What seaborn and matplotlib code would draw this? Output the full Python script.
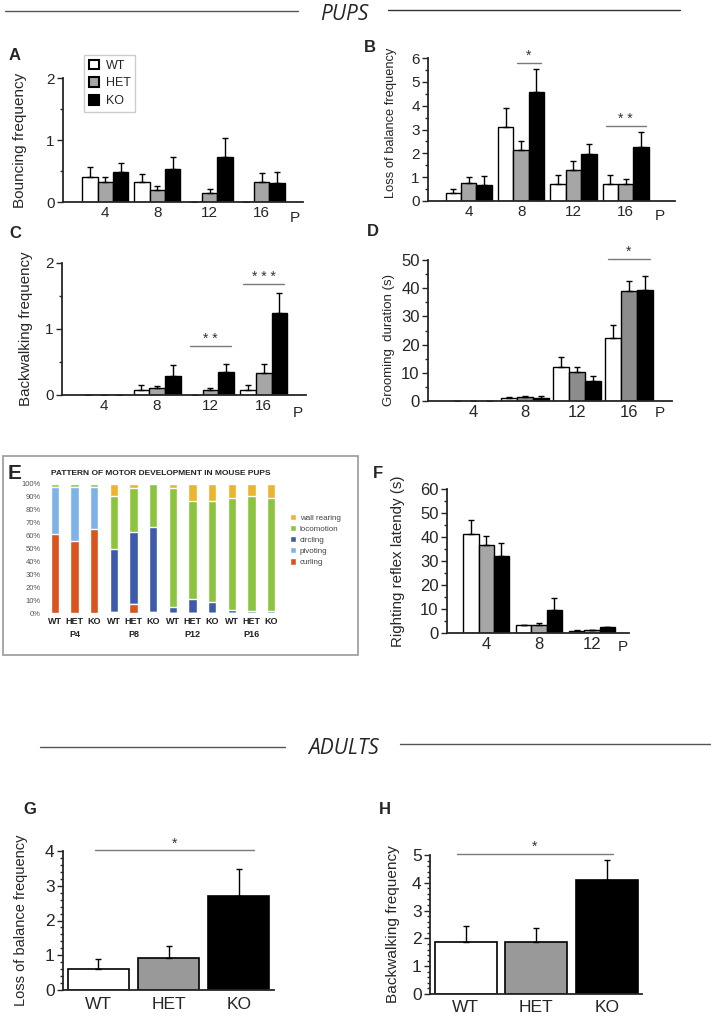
import numpy as np
import pandas as pd
import seaborn as sns
import matplotlib.pyplot as plt
from matplotlib.patches import Patch, Rectangle
from matplotlib.lines import Line2D
from matplotlib.ticker import MultipleLocator, FuncFormatter

W, H = 711, 1016

genotypes = ['WT', 'HET', 'KO']
ages = ['4', '8', '12', '16']
ages_f = ['4', '8', '12']

# A - bouncing frequency
bounce_wt = [0.40, 0.32, 0.0, 0.0]
bounce_het = [0.32, 0.19, 0.14, 0.32]
bounce_ko = [0.48, 0.54, 0.72, 0.30]
bounce_wt_err = [0.17, 0.13, 0.0, 0.0]
bounce_het_err = [0.08, 0.07, 0.07, 0.15]
bounce_ko_err = [0.15, 0.18, 0.31, 0.19]

# B - loss of balance (pups)
lob_wt = [0.34, 3.09, 0.72, 0.72]
lob_het = [0.77, 2.12, 1.28, 0.73]
lob_ko = [0.69, 4.59, 1.97, 2.28]
lob_wt_err = [0.17, 0.81, 0.35, 0.35]
lob_het_err = [0.24, 0.38, 0.38, 0.20]
lob_ko_err = [0.35, 0.94, 0.43, 0.60]

# C - backwalking (pups)
bw_wt = [0.0, 0.08, 0.0, 0.08]
bw_het = [0.0, 0.10, 0.07, 0.34]
bw_ko = [0.0, 0.29, 0.35, 1.25]
bw_wt_err = [0.0, 0.07, 0.0, 0.07]
bw_het_err = [0.0, 0.04, 0.03, 0.13]
bw_ko_err = [0.0, 0.16, 0.12, 0.30]

# D - grooming duration
groom_wt = [0.0, 1.2, 12.1, 22.4]
groom_het = [0.0, 1.3, 10.2, 38.9]
groom_ko = [0.0, 1.2, 7.0, 39.2]
groom_wt_err = [0.0, 0.2, 3.5, 4.6]
groom_het_err = [0.0, 0.4, 1.9, 3.5]
groom_ko_err = [0.0, 0.6, 1.9, 5.0]

# E - pattern of motor development (%)
stage_labels = ['P4', 'P8', 'P12', 'P16']
motor_ids = [f'{s} {g}' for s in stage_labels for g in genotypes]
curling = [61, 55.5, 65, 1, 7, 1, 0, 0, 0, 0, 0, 0]
pivoting = [37, 42, 33, 0, 0, 0, 0, 0, 0, 0, 0, 0]
circling = [0, 0, 0, 48.5, 56, 65.5, 5, 10.5, 8.5, 2, 1.5, 1.5]
locomotion = [2, 2.5, 2, 41.5, 34, 33.5, 92, 76.5, 78, 87, 89, 88]
wall_rearing = [0, 0, 0, 9, 3, 0, 3, 13, 13.5, 11, 9.5, 10.5]

# F - righting reflex latency
rr_wt = [41.4, 3.2, 0.85]
rr_het = [36.8, 3.5, 1.1]
rr_ko = [32.1, 9.6, 2.4]
rr_wt_err = [5.8, 0.3, 0.3]
rr_het_err = [3.5, 0.7, 0.3]
rr_ko_err = [5.4, 4.8, 0.3]

# G, H - adults
adult_lob = [0.60, 0.92, 2.70]
adult_lob_err = [0.30, 0.36, 0.77]
adult_bw = [1.87, 1.87, 4.10]
adult_bw_err = [0.56, 0.52, 0.71]

sns.set_style('ticks')
plt.rcParams['font.family'] = ['Liberation Sans', 'DejaVu Sans']

fig = plt.figure(figsize=(W / 100, H / 100), dpi=100)


def px_rect(l, t, r, b):
    return [l / W, 1 - b / H, (r - l) / W, (b - t) / H]


def fx(x):
    return x / W


def fy(y):
    return 1 - y / H


def grouped(ax, cats, vals, errs, colors, width):
    df = pd.DataFrame({
        'age': cats * 3,
        'geno': [g for g in genotypes for _ in cats],
        'val': sum(vals, []),
    })
    sns.barplot(data=df, x='age', y='val', hue='geno', order=cats,
                hue_order=genotypes, palette=colors, saturation=1,
                width=width, gap=0, errorbar=None, edgecolor='black',
                linewidth=1, legend=False, ax=ax)
    for cont, err in zip(list(ax.containers)[:3], errs):
        xs = [p.get_x() + p.get_width() / 2 for p in cont]
        ys = [p.get_height() for p in cont]
        ax.errorbar(xs, ys, yerr=[np.zeros(len(err)), err], fmt='none',
                    ecolor='black', elinewidth=1, capsize=2, capthick=1)


def style(ax, ylim, major, minor, ylabel, label_xpx, rect, lab_fs=10.5,
          tick_fs=11, label_y=0.5, xpad=3):
    ax.set_ylim(*ylim)
    ax.yaxis.set_major_locator(MultipleLocator(major))
    ax.yaxis.set_minor_locator(MultipleLocator(minor))
    sns.despine(ax=ax)
    for s in ['left', 'bottom']:
        ax.spines[s].set_linewidth(1.3)
    ax.set_xlabel('')
    ax.set_ylabel(ylabel, fontsize=lab_fs)
    l, t, r, b = rect
    ax.yaxis.set_label_coords((label_xpx - l) / (r - l), label_y)
    ax.tick_params(axis='x', length=0, labelsize=tick_fs, pad=xpad)
    ax.tick_params(axis='y', which='major', length=4, width=1, labelsize=tick_fs, pad=2)
    ax.tick_params(axis='y', which='minor', length=2.5, width=1)


def sig(ax, cont_a, cont_b, idx, y, text, fs=10):
    pa = ax.containers[cont_a][idx]
    pb = ax.containers[cont_b][idx]
    x1 = pa.get_x() + pa.get_width() * 0.2
    x2 = pb.get_x() + pb.get_width() * 0.8
    ax.plot([x1, x2], [y, y], color='#7a7a7a', lw=1, clip_on=False)
    ax.text((x1 + x2) / 2, y, text, ha='center', va='bottom', fontsize=fs,
            color='#333333', clip_on=False)


grey = '#a6a6a6'

# ---- A ----
rA = (63, 78, 303, 202)
axA = fig.add_axes(px_rect(*rA))
grouped(axA, ages, [bounce_wt, bounce_het, bounce_ko],
        [bounce_wt_err, bounce_het_err, bounce_ko_err], ['white', grey, 'black'], 0.88)
style(axA, (0, 2), 1, 0.5, 'Bouncing frequency', 27, rA, lab_fs=11)
axA.set_xlim(-0.81, 3.79)
handles = [Patch(facecolor=c, edgecolor='black', lw=1.5) for c in ['white', grey, 'black']]
axA.legend(handles, genotypes, loc='upper left', bbox_to_anchor=(fx(78), fy(49)),
           bbox_transform=fig.transFigure, fontsize=9, handlelength=0.8,
           handleheight=0.8, handletextpad=0.6, labelspacing=0.45, borderpad=0.35,
           fancybox=False, edgecolor='#cccccc', framealpha=1)

# ---- B ----
rB = (428, 58, 675, 201)
axB = fig.add_axes(px_rect(*rB))
grouped(axB, ages, [lob_wt, lob_het, lob_ko],
        [lob_wt_err, lob_het_err, lob_ko_err], ['white', grey, 'black'], 0.88)
style(axB, (0, 6), 1, 0.5, 'Loss of balance frequency', 397, rB, lab_fs=9.3, label_y=0.55)
axB.set_xlim(-0.78, 3.94)
sig(axB, 1, 2, 1, 5.8, '*')
sig(axB, 0, 2, 3, 3.15, '* *')

# ---- C ----
rC = (62, 263, 306, 395)
axC = fig.add_axes(px_rect(*rC))
grouped(axC, ages, [bw_wt, bw_het, bw_ko],
        [bw_wt_err, bw_het_err, bw_ko_err], ['white', grey, 'black'], 0.88)
style(axC, (0, 2), 1, 0.5, 'Backwalking frequency', 33, rC, lab_fs=10.9)
axC.set_xlim(-0.78, 3.79)
sig(axC, 0, 2, 2, 0.74, '* *')
sig(axC, 0, 2, 3, 1.68, '* * *')

# ---- D ----
rD = (428, 260, 672, 401)
axD = fig.add_axes(px_rect(*rD))
grouped(axD, ages, [groom_wt, groom_het, groom_ko],
        [groom_wt_err, groom_het_err, groom_ko_err], ['white', '#8c8c8c', 'black'], 0.92)
style(axD, (0, 50), 10, 5, 'Grooming  duration (s)', 395, rD, lab_fs=9.5, label_y=0.43, tick_fs=12)
axD.set_xlim(-0.87, 3.83)
sig(axD, 0, 2, 3, 50.4, '*')

# ---- F ----
rF = (447, 489, 629, 633)
axF = fig.add_axes(px_rect(*rF))
grouped(axF, ages_f, [rr_wt, rr_het, rr_ko],
        [rr_wt_err, rr_het_err, rr_ko_err], ['white', grey, 'black'], 0.86)
style(axF, (0, 60), 10, 5, 'Righting reflex latendy (s)', 405, rF, lab_fs=10.9, tick_fs=12)
axF.set_xlim(-0.74, 2.7)

# P labels
for x, y in [(295, 218), (660, 216), (298, 413), (660, 413), (623, 647)]:
    fig.text(fx(x), fy(y), 'P', ha='center', va='center', fontsize=11)

# ---- E ----
rE = (45, 484, 281, 613)
axE = fig.add_axes(px_rect(*rE))
layers = [('wall rearing', wall_rearing, '#ebb52e'),
          ('locomotion', locomotion, '#8cc43f'),
          ('circling', circling, '#3d5ba9'),
          ('pivoting', pivoting, '#80b2ea'),
          ('curling', curling, '#d9541e')]
stack_order = [curling, pivoting, circling, locomotion, wall_rearing]
cum = np.cumsum(np.array(stack_order), axis=0)
cum_by_name = dict(zip(['curling', 'pivoting', 'circling', 'locomotion', 'wall rearing'], cum))
for name, _, col in layers:
    sns.barplot(x=motor_ids, y=cum_by_name[name], color=col, saturation=1,
                width=0.42, errorbar=None, order=motor_ids, ax=axE)
axE.set_xlim(-0.5, 11.5)
axE.set_ylim(0, 100)
axE.yaxis.set_major_locator(MultipleLocator(10))
axE.yaxis.set_major_formatter(FuncFormatter(lambda v, p: f'{v:.0f}%'))
axE.set_xticks(range(len(motor_ids)))
axE.set_xticklabels([g for _ in stage_labels for g in genotypes], fontsize=6.5,
                    fontweight='bold', color='#222222')
axE.tick_params(axis='y', length=0, labelsize=5.5, labelcolor='#555555', pad=3)
axE.tick_params(axis='x', length=0, pad=3)
for s in axE.spines.values():
    s.set_visible(False)
axE.set_ylabel('')
axE.set_xlabel('')
for i, st in enumerate(stage_labels):
    axE.text(i * 3 + 1, -0.165, st, transform=axE.get_xaxis_transform(),
             ha='center', va='center', fontsize=6.5, fontweight='bold', color='#222222')
axE.legend([Patch(facecolor=c) for _, _, c in layers], [n for n, _, _ in layers],
           loc='upper left', bbox_to_anchor=(fx(286), fy(510)),
           bbox_transform=fig.transFigure, frameon=False, fontsize=5.8,
           handlelength=0.8, handleheight=0.8, handletextpad=0.4,
           labelspacing=0.4, borderpad=0, labelcolor='#444444')
fig.text(fx(161), fy(473), 'PATTERN OF MOTOR DEVELOPMENT IN MOUSE PUPS',
         ha='center', va='center', fontsize=6.0, fontweight='bold', color='#222222')
fig.add_artist(Rectangle((fx(3), fy(655)), (358 - 3) / W, (655 - 456) / H,
                         transform=fig.transFigure, fill=False,
                         edgecolor='#9a9a9a', lw=1.2))

# ---- G ----
rG = (63, 851, 274, 990)
axG = fig.add_axes(px_rect(*rG))
sns.barplot(x=genotypes, y=adult_lob, hue=genotypes, palette=['white', '#999999', 'black'],
            saturation=1, width=0.87, errorbar=None, edgecolor='black', linewidth=1.2,
            legend=False, ax=axG)
for p, e in zip(list(axG.patches), adult_lob_err):
    axG.errorbar(p.get_x() + p.get_width() / 2, p.get_height(), yerr=[[0], [e]],
                 fmt='none', ecolor='black', elinewidth=1, capsize=2)
style(axG, (0, 4), 1, 0.2, 'Loss of balance frequency', 28, rG, lab_fs=10.5,
      tick_fs=12.5, xpad=5)
axG.set_xlim(-0.5, 2.5)
pa, pb = axG.patches[0], axG.patches[2]
gx1, gx2 = pa.get_x() + pa.get_width() * 0.45, pb.get_x() + pb.get_width() * 0.75
axG.plot([gx1, gx2], [4.02, 4.02], color='#7a7a7a', lw=1, clip_on=False)
axG.text((gx1 + gx2) / 2, 4.02, '*', ha='center', va='bottom', fontsize=10, color='#333333')

# ---- H ----
rH = (430, 855, 642, 994)
axH = fig.add_axes(px_rect(*rH))
sns.barplot(x=genotypes, y=adult_bw, hue=genotypes, palette=['white', '#999999', 'black'],
            saturation=1, width=0.88, errorbar=None, edgecolor='black', linewidth=1.2,
            legend=False, ax=axH)
for p, e in zip(list(axH.patches), adult_bw_err):
    axH.errorbar(p.get_x() + p.get_width() / 2, p.get_height(), yerr=[[0], [e]],
                 fmt='none', ecolor='black', elinewidth=1, capsize=2)
style(axH, (0, 5), 1, 0.2, 'Backwalking frequency', 400, rH, lab_fs=11.1,
      tick_fs=12.5, xpad=4)
axH.set_xlim(-0.51, 2.5)
pa, pb = axH.patches[0], axH.patches[2]
hx1, hx2 = pa.get_x() + pa.get_width() * 0.35, pb.get_x() + pb.get_width() * 0.6
axH.plot([hx1, hx2], [5.04, 5.04], color='#7a7a7a', lw=1, clip_on=False)
axH.text((hx1 + hx2) / 2, 5.04, '*', ha='center', va='bottom', fontsize=10, color='#333333')

# panel letters
for t, x, y, fs in [('A', 15, 55, 12), ('B', 370, 47, 12), ('C', 15, 234, 12),
                    ('D', 373, 232, 12), ('E', 15, 473, 15), ('F', 378, 473, 12),
                    ('G', 30, 810, 12), ('H', 385, 810, 12)]:
    fig.text(fx(x), fy(y), t, ha='center', va='center', fontsize=fs, fontweight='bold')

# section headers
hdr = dict(ha='center', va='center', fontsize=15, style='italic',
           family=['Open Sans', 'DejaVu Sans'])
fig.text(fx(344), fy(14), 'PUPS', **hdr)
fig.add_artist(Line2D([fx(5), fx(298)], [fy(11), fy(11)], color='#555555', lw=1))
fig.add_artist(Line2D([fx(388), fx(680)], [fy(10), fy(10)], color='#333333', lw=1))
fig.text(fx(344), fy(748), 'ADULTS', **hdr)
fig.add_artist(Line2D([fx(40), fx(285)], [fy(747), fy(747)], color='#555555', lw=1))
fig.add_artist(Line2D([fx(400), fx(711)], [fy(744), fy(744)], color='#555555', lw=1))

fig.savefig('out.png', dpi=100)
